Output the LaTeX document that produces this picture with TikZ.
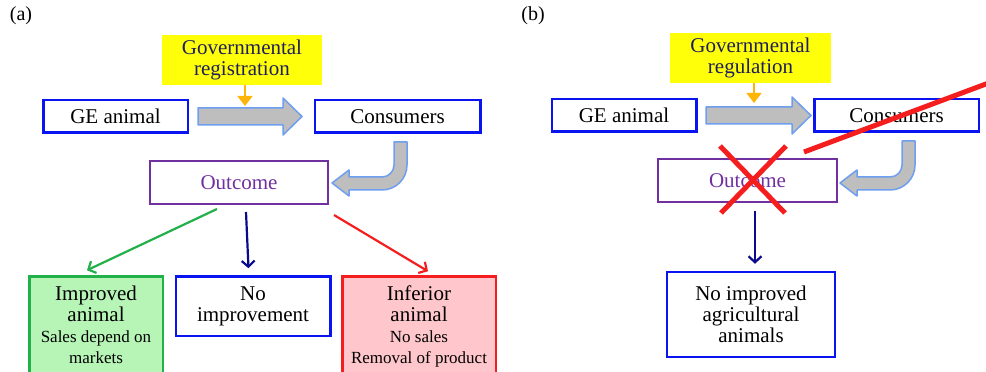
\documentclass[tikz,border=0pt]{standalone}
\usepackage{fontspec}
\setmainfont{Liberation Serif}
\definecolor{boxblue}{HTML}{0A14F0}
\definecolor{outpurple}{HTML}{7030A0}
\definecolor{ggreen}{HTML}{22B04A}
\definecolor{lgreen}{HTML}{B6F5B6}
\definecolor{rred}{HTML}{F51E1E}
\definecolor{lred}{HTML}{FFC6CB}
\definecolor{regyellow}{HTML}{FFFF0A}
\definecolor{regorange}{HTML}{FFB40A}
\definecolor{navy}{HTML}{0A0A8C}
\definecolor{flowgray}{HTML}{BEBEBE}
\definecolor{flowedge}{HTML}{6E9EF0}
\definecolor{regtext}{HTML}{1E1E5A}
\usetikzlibrary{positioning,arrows.meta,calc}
\newcommand\smalltxt{\fontsize{17}{21}\selectfont}
\newcommand\flowarrow[3]{\filldraw[flow] (#1,#3-8.5) -- (#2-19,#3-8.5) -- (#2-19,#3-18.5) -- (#2,#3)
  -- (#2-19,#3+18.5) -- (#2-19,#3+8.5) -- (#1,#3+8.5) -- cycle;}
\newcommand\turnarrow[2]{\filldraw[flow] (#1,#2) -- (#1+13,#2) -- (#1+13,207) arc[start angle=0,end angle=-90,radius=25pt]
  -- (#1-45,182) -- (#1-45,176) -- (#1-62,189) -- (#1-45,202) -- (#1-45,195) -- (#1-12,195)
  arc[start angle=-90,end angle=0,radius=12pt] -- cycle;}

\begin{document}
\begin{tikzpicture}[x=1pt,y=1pt,every node/.style={font=\fontsize{21}{21}\selectfont,align=center,inner sep=0pt},
    box/.style={draw=boxblue,line width=2.5pt,minimum height=32.5pt},
    regbox/.style={fill=regyellow,text=regtext,minimum width=160pt,minimum height=50pt},
    outbox/.style={draw=outpurple,line width=2pt,text=outpurple,minimum height=43pt},
    endbox/.style={line width=2.5pt,anchor=north,inner xsep=2pt,inner ysep=9pt,text depth=15pt},
    flow/.style={fill=flowgray,draw=flowedge,line width=1.5pt,line join=round},
    regarrow/.style={regorange,line width=1.5pt,-{Triangle[width=15pt,length=10pt]}},
    outarrow/.style={line width=2.2pt,-{Straight Barb[length=6pt,width=13pt]}},
    cross/.style={rred,line width=5pt}]
  \useasboundingbox (0,0) rectangle (986,372);
  \clip (0,0) rectangle (986,372);
  % (a)
  \node[font=\fontsize{20}{20}\selectfont] (la) at (21,356) {(a)};
  \node[regbox] (reg) at (242,312) {Governmental\\registration};
  \node[box,minimum width=144.5pt] (ge) at (115.5,255.5) {GE animal};
  \node[box,minimum width=165.5pt,right=124.5pt of ge] (con) {Consumers};
  \node[outbox,minimum width=178pt] (out) at (239,189.5) {Outcome};
  \node[endbox,draw=ggreen,fill=lgreen,minimum width=133.5pt] (imp) at (96,96.75)
    {Improved\\animal\\{\smalltxt Sales depend on}\\{\smalltxt markets}};
  \node[box,minimum width=154.5pt,minimum height=59.5pt,right=10.5pt of imp.north east,anchor=north west] (none)
    {No\\improvement};
  \node[endbox,draw=rred,fill=lred,minimum width=153.5pt,right=9.5pt of none.north east,anchor=north west] (inf)
    {Inferior\\animal\\{\smalltxt No sales}\\{\smalltxt Removal of product}};
  \coordinate (regtip) at (245,266);
  \flowarrow{198}{302}{255.5}
  \turnarrow{394}{230}
  \draw[regarrow] ([xshift=3pt]reg.south) -- (regtip);
  \draw[outarrow,ggreen] ([xshift=-22pt,yshift=-4pt]out.south) -- ([xshift=-9pt,yshift=5pt]imp.north);
  \draw[outarrow,navy] ([xshift=7pt,yshift=-7pt]out.south) -- ([xshift=-4.5pt,yshift=7pt]none.north);
  \draw[outarrow,rred] ([xshift=5pt,yshift=-10pt]out.south east) -- ([xshift=9pt,yshift=4pt]inf.north);
  % (b)
  \node[font=\fontsize{20}{20}\selectfont] (lb) at (533,356) {(b)};
  \node[regbox,minimum width=161pt] (regb) at (750.5,314) {Governmental\\regulation};
  \node[box,minimum width=144.5pt] (geb) at (624,256.5) {GE animal};
  \node[box,minimum width=164.5pt,right=115.5pt of geb] (conb) {Consumers};
  \node[outbox,minimum width=179pt] (outb) at (747.5,191.5) {Outcome};
  \node[box,minimum width=168pt,minimum height=85pt] (noimp) at (751,57.5)
    {No improved\\agricultural\\animals};
  \coordinate (regtipb) at (754,269);
  \flowarrow{706}{811}{256.5}
  \turnarrow{902}{231}
  \draw[regarrow] ([xshift=3.5pt]regb.south) -- (regtipb);
  \draw[outarrow,navy] ([xshift=7.5pt,yshift=-8pt]outb.south) -- ([xshift=4pt,yshift=7pt]noimp.north);
  \draw[cross] ($(outb.center)+(-27.5,34.5)$) -- ($(outb.center)+(37.5,-32.5)$);
  \draw[cross] ($(outb.center)+(38.5,34.5)$) -- ($(outb.center)+(-26.5,-32.5)$);
  \draw[cross] (804,220) -- (1010,297);
\end{tikzpicture}
\end{document}
